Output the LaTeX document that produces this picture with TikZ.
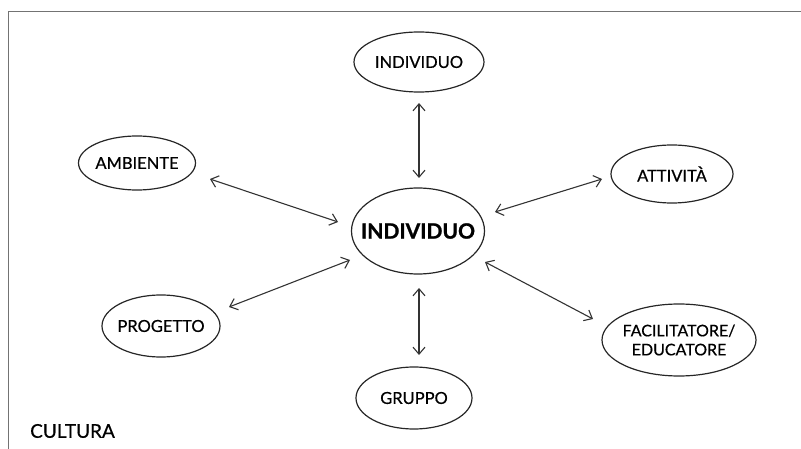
\documentclass[tikz,border=0pt]{standalone}
\usepackage{fontspec}
\setmainfont{Lato}
\newfontfamily\handfont[FakeBold=0.6]{Lato}
\newfontfamily\handbold[FakeBold=1.2]{Lato Bold}
\newcommand{\zb}[1]{\makebox[0pt]{#1}}
\usetikzlibrary{shapes.geometric,arrows.meta}
\tikzset{
  bub/.style={draw=black!85, line width=1.2pt, ellipse, inner sep=0pt, font=\handfont\fontsize{16.5}{19}\selectfont, align=center},
  arr/.style={draw=black!80, line width=1.1pt, {Straight Barb[length=7pt,width=12pt]}-{Straight Barb[length=7pt,width=12pt]}},
  frame/.style={draw=black!55, line width=1pt}
}
\begin{document}
\begin{tikzpicture}[x=1pt,y=-1pt]
\useasboundingbox (0,0) rectangle (801,449);
\coordinate (f1) at (801,12);
\coordinate (f2) at (8,12);
\coordinate (f3) at (8,449);
\draw[frame] (f1) -- (f2) -- (f3);

\node[bub, minimum width=130pt, minimum height=60pt] (top) at (419,62) {\zb{INDIVIDUO}};
\node[bub, minimum width=133pt, minimum height=86pt, font=\handbold\fontsize{21}{23}\selectfont] (c) at (418,231) {\zb{INDIVIDUO}};
\node[bub, minimum width=117pt, minimum height=54pt] (amb) at (137,163) {\zb{AMBIENTE}};
\node[bub, minimum width=122pt, minimum height=58pt] (att) at (672,174) {\zb{ATTIVITÀ}};
\node[bub, minimum width=118pt, minimum height=62pt] (prog) at (161,326) {\zb{PROGETTO}};
\node[bub, minimum width=116pt, minimum height=62pt] (grup) at (414,398) {\zb{GRUPPO}};
\node[bub, minimum width=154pt, minimum height=72pt, font=\handfont\fontsize{16}{19}\selectfont] (fac) at (679,340) {\zb{FACILITATORE/}\\\zb{EDUCATORE}};
\node[anchor=west, font=\handfont\fontsize{19}{21}\selectfont, inner sep=0pt] (cul) at (30,431) {CULTURA};

\draw[arr] ([shift={(0,41)}]top.center) -- ([shift={(1,-53)}]c.center);
\draw[arr] ([shift={(73,16)}]amb.center) -- ([shift={(-80,-9)}]c.center);
\draw[arr] ([shift={(-70,5)}]att.center) -- ([shift={(77,-19)}]c.center);
\draw[arr] ([shift={(68,-19)}]prog.center) -- ([shift={(-68,29)}]c.center);
\draw[arr] ([shift={(-86,-21)}]fac.center) -- ([shift={(67,31)}]c.center);
\draw[arr] ([shift={(1,57)}]c.center) -- ([shift={(5,-43)}]grup.center);
\end{tikzpicture}
\end{document}
